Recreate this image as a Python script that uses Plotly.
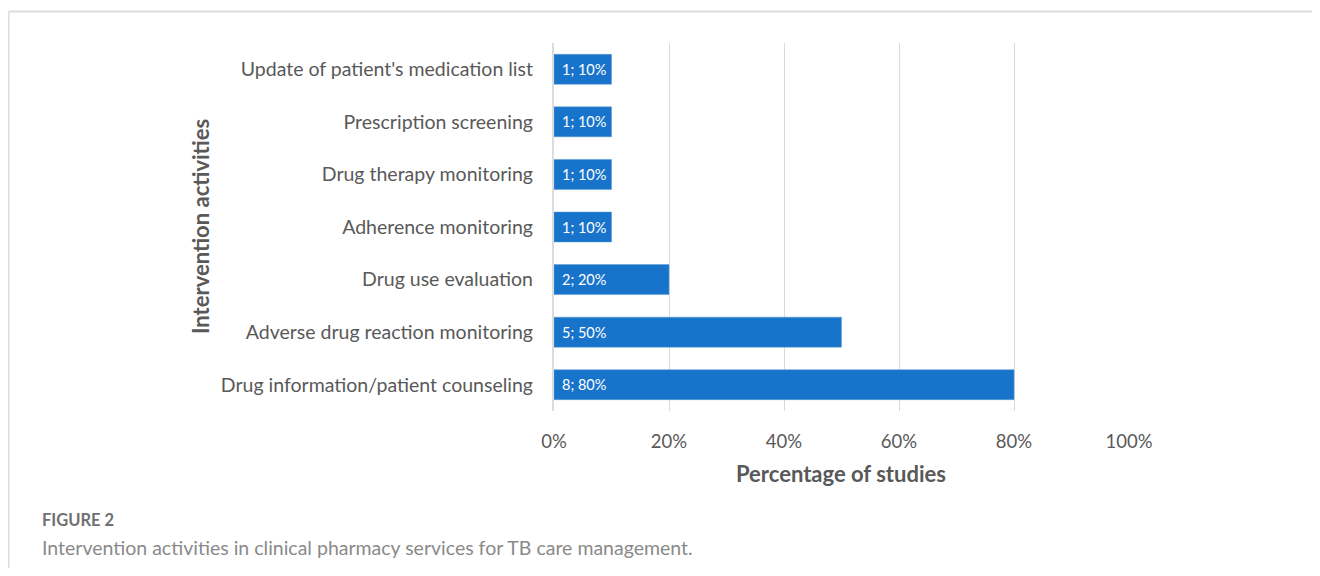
import plotly.graph_objects as go

categories = [
    "Drug information/patient counseling",
    "Adverse drug reaction monitoring",
    "Drug use evaluation",
    "Adherence monitoring",
    "Drug therapy monitoring",
    "Prescription screening",
    "Update of patient's medication list",
]
counts = [8, 5, 2, 1, 1, 1, 1]
percents = [80, 50, 20, 10, 10, 10, 10]
x_ticks = [0, 0.2, 0.4, 0.6, 0.8, 1.0]
x_tick_labels = ["0%", "20%", "40%", "60%", "80%", "100%"]

labels = [f"{n}; {p}%" for n, p in zip(counts, percents)]
values = [p / 100 for p in percents]

# page body has an 8px margin; work in window pixels and shift
OFF = 8
W, H = 1320 - 2 * OFF, 576 - 2 * OFF
L, R, T, B = 554 - OFF, 1129 - OFF, 43 - OFF, 411 - OFF

def px(x):
    return (x - OFF - L) / (R - L)

def py(y):
    return (B - (y - OFF)) / (B - T)

fig = go.Figure(go.Bar(
    y=categories, x=values, orientation="h",
    marker=dict(color="#1874CB", line=dict(color="#5B9BD5", width=0.5)),
    hoverinfo="skip",
))

bar_labels = [
    dict(text=t, x=0, y=c, xref="x", yref="y", showarrow=False,
         xanchor="left", yanchor="middle", xshift=6,
         font=dict(family="Lato", size=14.5, color="white"))
    for t, c in zip(labels, categories)
]

fig.update_layout(
    width=W, height=H,
    margin=dict(l=L, r=W - R, t=T, b=H - B, pad=0),
    paper_bgcolor="white", plot_bgcolor="white",
    bargap=0.43,
    showlegend=False,
    font=dict(family="Lato", color="#595959"),
    xaxis=dict(range=[0, 1.0], tickvals=x_ticks, ticktext=x_tick_labels,
               showgrid=True, gridcolor="#D9D9D9", gridwidth=1,
               zeroline=False, showline=False, ticks="",
               tickfont=dict(family="Lato", size=18.5, color="#595959"),
               ticklabelstandoff=17, fixedrange=True),
    yaxis=dict(showgrid=False, zeroline=False, showline=False, ticks="",
               tickfont=dict(family="Lato", size=19.5, color="#595959"),
               ticklabelstandoff=20, fixedrange=True),
    shapes=[
        dict(type="line", xref="paper", yref="paper",
             x0=px(553), x1=px(553), y0=py(411), y1=py(43),
             line=dict(color="#D0D0D0", width=1.5)),
        dict(type="line", xref="paper", yref="paper",
             x0=px(8.5), x1=px(1330), y0=py(11.5), y1=py(11.5),
             line=dict(color="#DDDDDD", width=2)),
        dict(type="line", xref="paper", yref="paper",
             x0=px(8.5), x1=px(8.5), y0=py(11.5), y1=py(590),
             line=dict(color="#DDDDDD", width=2)),
    ],
    annotations=bar_labels + [
        dict(text="<b>Percentage of studies</b>", xref="paper", yref="paper",
             x=px(841), y=py(473), showarrow=False, xanchor="center", yanchor="middle",
             font=dict(family="Lato", size=22, color="#595959")),
        dict(text="<b>Intervention activities</b>", xref="paper", yref="paper",
             x=px(200), y=py(227), showarrow=False, textangle=-90,
             xanchor="center", yanchor="middle",
             font=dict(family="Lato", size=22, color="#595959")),
        dict(text="<b>FIGURE 2</b>", xref="paper", yref="paper",
             x=px(40), y=py(520), showarrow=False, xanchor="left", yanchor="middle",
             font=dict(family="Lato", size=16.5, color="#707070")),
        dict(text="Intervention activities in clinical pharmacy services for TB care management.",
             xref="paper", yref="paper",
             x=px(40), y=py(547), showarrow=False, xanchor="left", yanchor="middle",
             font=dict(family="Lato", size=19.5, color="#8A8A8A")),
    ],
)

fig.write_html("out.html")
